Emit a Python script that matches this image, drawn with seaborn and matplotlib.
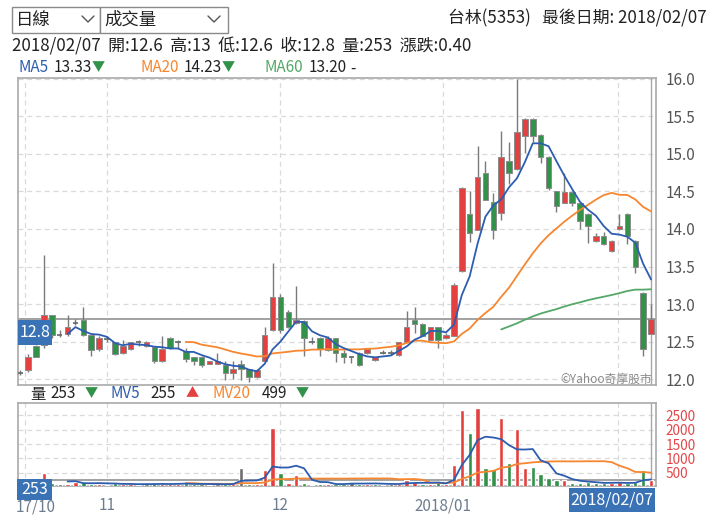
import numpy as np
import pandas as pd
import matplotlib
matplotlib.use("Agg")
import matplotlib.pyplot as plt
import seaborn as sns
from matplotlib.patches import Rectangle
from matplotlib.lines import Line2D

# ---------------- data ----------------
opens = [12.09, 12.13, 12.44, 12.45, 12.85, 12.59, 12.60, 12.75, 12.79, 12.59,
         12.40, 12.54, 12.49, 12.35, 12.40, 12.50, 12.44, 12.43, 12.24, 12.55,
         12.50, 12.37, 12.30, 12.30, 12.20, 12.20, 12.19, 12.09, 12.20, 12.14,
         12.03, 12.24, 12.66, 13.10, 12.90, 12.75, 12.78, 12.49, 12.55, 12.39,
         12.55, 12.35, 12.29, 12.35, 12.35, 12.25, 12.35, 12.35, 12.32, 12.50,
         12.79, 12.74, 12.52, 12.69, 12.55, 12.58, 13.44, 14.20, 13.99, 14.75,
         14.36, 14.21, 14.90, 14.80, 15.24, 15.46, 15.25, 14.96, 14.50, 14.35,
         14.49, 14.35, 14.20, 13.84, 13.90, 13.70, 14.00, 14.20, 13.84, 13.15, 12.60]
closes = [12.09, 12.30, 12.30, 12.85, 12.59, 12.59, 12.69, 12.75, 12.59, 12.39,
          12.55, 12.54, 12.34, 12.44, 12.49, 12.50, 12.50, 12.24, 12.40, 12.41,
          12.50, 12.27, 12.24, 12.19, 12.24, 12.24, 12.09, 12.14, 12.14, 12.03,
          12.13, 12.59, 13.10, 12.66, 12.70, 12.79, 12.55, 12.49, 12.40, 12.55,
          12.35, 12.29, 12.29, 12.19, 12.40, 12.29, 12.35, 12.35, 12.50, 12.69,
          12.74, 12.58, 12.69, 12.52, 12.59, 13.25, 14.55, 13.94, 14.69, 14.39,
          13.99, 14.96, 14.74, 15.29, 15.46, 15.24, 14.96, 14.55, 14.30, 14.49,
          14.35, 14.10, 14.04, 13.90, 13.80, 13.84, 14.04, 13.90, 13.50, 12.40, 12.80]
highs = [12.12, 12.33, 12.45, 13.65, 12.86, 12.65, 12.86, 12.80, 12.96, 12.59,
         12.58, 12.58, 12.50, 12.52, 12.50, 12.52, 12.51, 12.44, 12.58, 12.56,
         12.52, 12.41, 12.30, 12.31, 12.24, 12.35, 12.24, 12.24, 12.25, 12.14,
         12.14, 12.69, 13.55, 13.14, 12.92, 13.24, 12.79, 12.56, 12.56, 12.58,
         12.55, 12.39, 12.31, 12.36, 12.42, 12.30, 12.39, 12.39, 12.50, 12.91,
         12.96, 12.75, 12.70, 12.70, 12.61, 13.28, 14.56, 14.50, 15.10, 14.90,
         14.48, 15.30, 15.16, 16.00, 15.47, 15.47, 15.26, 14.97, 14.50, 14.75,
         14.50, 14.36, 14.21, 13.94, 13.96, 13.85, 14.20, 14.21, 13.85, 13.16, 13.00]
lows = [12.06, 12.10, 12.29, 12.42, 12.55, 12.56, 12.58, 12.72, 12.58, 12.31,
        12.38, 12.50, 12.32, 12.34, 12.39, 12.44, 12.43, 12.21, 12.23, 12.40,
        12.42, 12.23, 12.19, 12.16, 12.20, 12.20, 11.99, 12.01, 11.99, 11.97,
        12.02, 12.24, 12.64, 12.62, 12.68, 12.73, 12.31, 12.47, 12.31, 12.37,
        12.23, 12.22, 12.22, 12.18, 12.34, 12.24, 12.33, 12.32, 12.31, 12.49,
        12.61, 12.57, 12.51, 12.41, 12.53, 12.57, 13.43, 13.82, 13.98, 14.38,
        13.86, 14.12, 14.60, 14.79, 15.01, 15.16, 14.87, 14.52, 14.22, 14.34,
        14.31, 14.00, 13.81, 13.82, 13.79, 13.69, 13.98, 13.80, 13.41, 12.31, 12.60]
volumes = [100, 120, 110, 500, 140, 100, 115, 160, 160, 120,
           120, 80, 130, 90, 115, 80, 90, 140, 115, 90,
           115, 130, 90, 110, 80, 90, 110, 120, 675, 120,
           110, 595, 2070, 500, 130, 420, 130, 80, 110, 110,
           90, 120, 160, 120, 120, 100, 80, 110, 110, 245,
           160, 110, 110, 160, 90, 770, 2690, 1895, 2745, 675,
           630, 2400, 840, 2020, 650, 710, 440, 325, 245, 245,
           130, 140, 185, 140, 130, 135, 163, 140, 160, 595, 253]

month_ticks = [0.6, 11, 32.95, 53.65, 75.85]
month_labels = ["", "11", "12", "2018/01", ""]
first_label = "17/10"
price_ticks = [12.0, 12.5, 13.0, 13.5, 14.0, 14.5, 15.0, 15.5, 16.0]
vol_ticks = [500, 1000, 1500, 2000, 2500]
last_close = 12.8
last_volume = 253
last_date = "2018/02/07"

# ---------------- style ----------------
sns.set_theme(style="white")
plt.rcParams["font.family"] = ["Noto Sans CJK TC", "DejaVu Sans"]

W, H = 720, 523
fig = plt.figure(figsize=(W / 100, H / 100), dpi=100)

RED = "#e3403f"
GREEN = "#33924a"
GRAY = "#6e6e6e"
BLUE_LINE = "#2d5db0"
ORANGE = "#f7862f"
MA60C = "#55a868"
BOXBLUE = "#3a72b6"

def fx(x):
    return x / W

def fy(y):
    return 1 - y / H

ax = fig.add_axes([fx(18), fy(385), (656 - 18) / W, (385 - 78) / H])
axv = fig.add_axes([fx(18), fy(486), (656 - 18) / W, (486 - 403) / H])

idx = np.arange(len(closes))
o = np.array(opens); c = np.array(closes); h = np.array(highs); l = np.array(lows)
v = np.array(volumes)

up = c > o
down = c < o
flat = c == o
cand_col = np.where(up, RED, np.where(down, GREEN, GRAY))

# wicks
ax.vlines(idx, l, h, color="#7a7a7a", lw=1.0, zorder=2)
# bodies
bw = 0.7
body_bot = np.minimum(o, c)
body_h = np.abs(c - o)
mask = ~flat
ax.bar(idx[mask], body_h[mask], bottom=body_bot[mask], width=bw,
       color=cand_col[mask], edgecolor="#8c8c8c", linewidth=0.7, zorder=3)
ax.hlines(c[flat], idx[flat] - bw / 2, idx[flat] + bw / 2, color="#666666", lw=1.2, zorder=3)

# moving averages
cs = pd.Series(closes)
def ma(series, n):
    m = series.rolling(n).mean()
    m[: n + 1] = np.nan
    return m

for n, col in [(60, MA60C), (20, ORANGE), (5, BLUE_LINE)]:
    m = ma(cs, n)
    sns.lineplot(x=idx, y=m.values, ax=ax, color=col, lw=1.3, zorder=4)

ax.axhline(last_close, color="#9a9a9a", lw=1.3, zorder=1)
ax.axvline(idx[-1], color="#a8a8a8", lw=1.0, zorder=1)

ax.set_xlim(-0.29, 80.63)
ax.set_ylim(11.924, 16.007)
ax.set_yticks(price_ticks)
ax.set_yticklabels([f"{t:.1f}" for t in price_ticks])
ax.yaxis.tick_right()
ax.set_xticks(month_ticks)
ax.tick_params(axis="x", labelbottom=False, length=0)
ax.tick_params(axis="y", length=0, pad=7, labelsize=11, labelcolor="#555555")
ax.grid(True, ls=(0, (4, 3)), color="#dadada", lw=0.9)

# volume panel
vs = pd.Series(volumes)
prev = np.r_[np.nan, c[:-1]]
vol_col = np.where(c == prev, GRAY, np.where(c > prev, RED, GREEN))
vol_col[0] = GRAY if flat[0] else vol_col[0]
axv.bar(idx, v, width=0.55, color=vol_col, zorder=3)
for n, col in [(20, ORANGE), (5, BLUE_LINE)]:
    m = ma(vs, n)
    sns.lineplot(x=idx, y=m.values, ax=axv, color=col, lw=1.3, zorder=4)
axv.axhline(last_volume, color="#9a9a9a", lw=1.3, zorder=2)
axv.axvline(idx[-1], color="#a8a8a8", lw=1.0, zorder=1)
axv.set_xlim(-0.29, 80.63)
axv.set_ylim(35, 2932)
axv.set_yticks(vol_ticks)
axv.yaxis.tick_right()
axv.set_xticks(month_ticks)
axv.set_xticklabels(month_labels)
axv.tick_params(axis="x", length=0, pad=8, labelsize=11, labelcolor="#6d7d90")
axv.tick_params(axis="y", length=0, pad=7, labelsize=9.8, labelcolor="#e2474b")
axv.grid(True, ls=(0, (4, 3)), color="#dadada", lw=0.9)
axv.text(2.0, -0.25, first_label, transform=axv.get_xaxis_transform(),
         ha="center", va="center", fontsize=11, color="#6d7d90")

for a in (ax, axv):
    a.set_ylabel(""); a.set_xlabel("")
    for s in a.spines.values():
        s.set_color("#a9a9a9"); s.set_linewidth(1.2)
    a.set_facecolor("white")

# ---------------- header / legends ----------------
def ftxt(x, y, s, **kw):
    kw.setdefault("fontsize", 11)
    kw.setdefault("color", "#222222")
    kw.setdefault("zorder", 8)
    fig.text(fx(x), fy(y), s, va="center", ha=kw.pop("ha", "left"), **kw)

def box(x0, y0, x1, y1, fc, ec=None, lw=0, z=5):
    fig.add_artist(Rectangle((fx(x0), fy(y1)), (x1 - x0) / W, (y1 - y0) / H,
                             transform=fig.transFigure, facecolor=fc,
                             edgecolor=ec if ec else fc, lw=lw, zorder=z))

# dropdowns
box(12, 7, 100, 33, "white", "#8a8a8a", 1.0)
box(100, 7, 228, 33, "white", "#8a8a8a", 1.0)
ftxt(16, 20, "日線", fontsize=12.5)
ftxt(104, 20, "成交量", fontsize=12.5)
for cx in (88, 214):
    fig.add_artist(Line2D([fx(cx - 6), fx(cx), fx(cx + 6)], [fy(16), fy(22), fy(16)],
                          transform=fig.transFigure, color="#555555", lw=1.0, zorder=6))

ftxt(707, 18, "台林(5353)   最後日期: 2018/02/07", ha="right", fontsize=12.2)
ftxt(12, 46, "2018/02/07  開:12.6  高:13  低:12.6  收:12.8  量:253  漲跌:0.40", fontsize=12.2)

# MA legend
ftxt(19, 68, "MA5", color=BLUE_LINE)
ftxt(54, 68, "13.33")
ftxt(92, 68, "▼", color=GREEN, fontsize=9.5)
ftxt(141, 68, "MA20", color=ORANGE)
ftxt(184, 68, "14.23")
ftxt(222, 68, "▼", color=GREEN, fontsize=9.5)
ftxt(265, 68, "MA60", color=MA60C)
ftxt(309, 68, "13.20")
ftxt(350, 68, "-")

# volume legend
ftxt(30, 394, "量")
ftxt(50, 394, "253")
ftxt(85, 394, "▼", color=GREEN, fontsize=9.5)
ftxt(111, 394, "MV5", color=BLUE_LINE)
ftxt(150, 394, "255")
ftxt(186, 394, "▲", color=RED, fontsize=9.5)
ftxt(213, 394, "MV20", color=ORANGE)
ftxt(262, 394, "499")
ftxt(296, 394, "▼", color=GREEN, fontsize=9.5)

# value boxes
box(18, 320, 52, 345, BOXBLUE)
ftxt(35, 332.5, "12.8", ha="center", color="white", fontsize=11.5, zorder=9)
box(17, 479, 52, 500, BOXBLUE)
ftxt(34.5, 489.5, "253", ha="center", color="white", fontsize=11.5, zorder=9)
box(569, 488, 655, 512, BOXBLUE)
ftxt(612, 500, last_date, ha="center", color="white", fontsize=11.5, zorder=9)

ftxt(652, 379, "©Yahoo奇摩股市", ha="right", color="#8a8a8a", fontsize=8.5)

fig.savefig("out.png", dpi=100, facecolor="white")
